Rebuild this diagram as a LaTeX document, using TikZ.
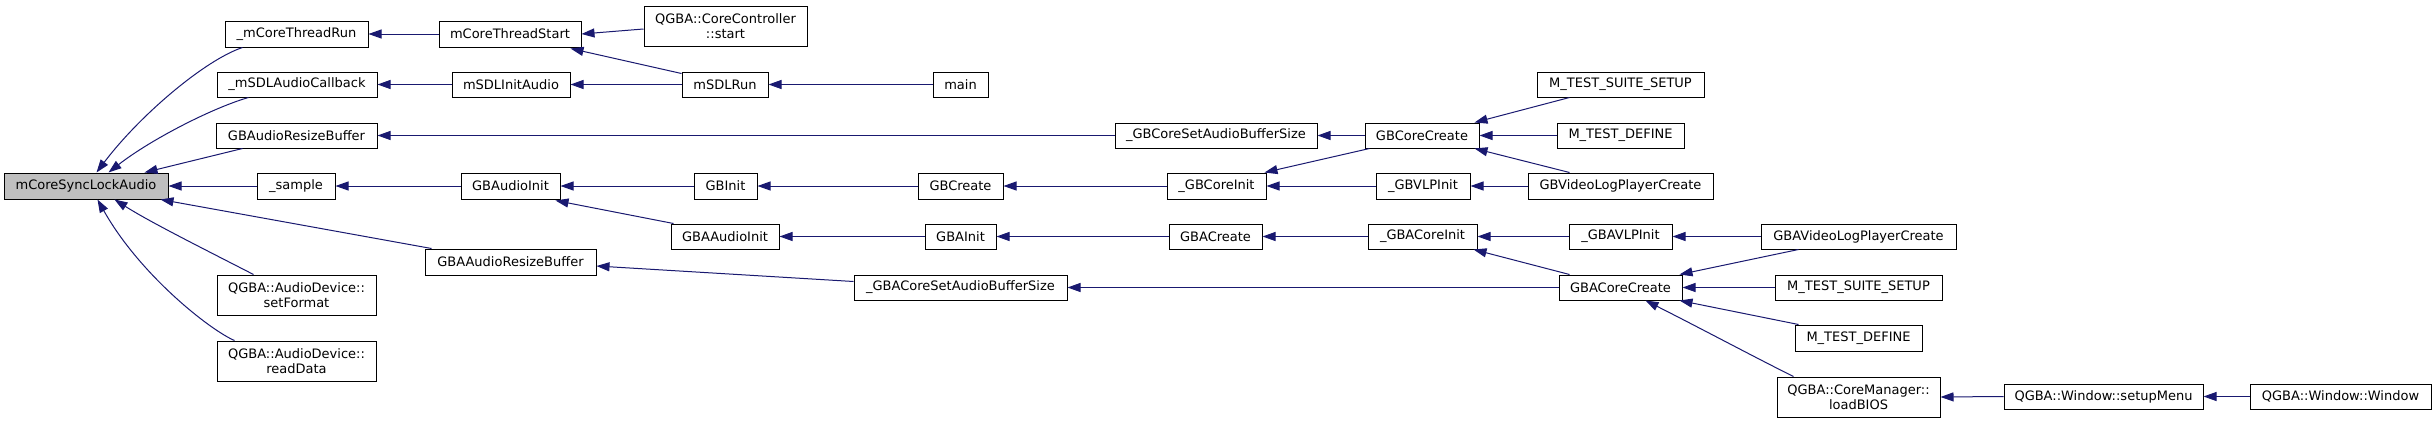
\documentclass[tikz,border=0pt]{standalone}
\usepackage{fontspec}
\setmainfont{DejaVu Sans}
\usetikzlibrary{arrows.meta}
\definecolor{edgecol}{HTML}{191970}
\definecolor{rootfill}{HTML}{BFBFBF}
\newcommand{\bx}[6]{\node[#1, minimum width={(#4-#2)*1pt}, minimum height={(#5-#3)*1pt}] (#6) at ({(#2+#4)/2},{(#3+#5)/2})}
\begin{document}
\begin{tikzpicture}[x=1pt,y=-1pt,
 box/.style={draw=black, line width=1pt, fill=white, inner sep=0pt, align=center, font=\fontsize{13}{15}\selectfont},
 root/.style={box, fill=rootfill},
 edge/.style={draw=edgecol, line width=1pt, -{Triangle[length=13pt,width=9pt]}}
]
\useasboundingbox (0,0) rectangle (2436,423);
\fill[white] (0,0) rectangle (2436,423);
% nodes
\bx{root}{4}{173}{168}{199}{n0} {mCoreSyncLockAudio};
\bx{box}{225}{21}{368}{47}{n1} {\_mCoreThreadRun};
\bx{box}{217}{72}{377}{97}{n2} {\_mSDLAudioCallback};
\bx{box}{216}{123}{377}{148}{n3} {GBAudioResizeBuffer};
\bx{box}{257}{173}{335}{199}{n4} {\_sample};
\bx{box}{425}{249}{596}{275}{n5} {GBAAudioResizeBuffer};
\bx{box}{217}{275}{376}{315}{n6} {QGBA::AudioDevice::\\setFormat};
\bx{box}{217}{341}{376}{381}{n7} {QGBA::AudioDevice::\\readData};
\bx{box}{439}{21}{581}{47}{n8} {mCoreThreadStart};
\bx{box}{452}{72}{570}{97}{n9} {mSDLInitAudio};
\bx{box}{461}{173}{560}{199}{n10} {GBAudioInit};
\bx{box}{644}{6}{807}{46}{n11} {QGBA::CoreController\\::start};
\bx{box}{682}{72}{768}{97}{n12} {mSDLRun};
\bx{box}{933}{72}{988}{97}{n13} {main};
\bx{box}{694}{173}{757}{199}{n14} {GBInit};
\bx{box}{918}{173}{1003}{199}{n15} {GBCreate};
\bx{box}{671}{224}{779}{249}{n16} {GBAAudioInit};
\bx{box}{925}{224}{996}{249}{n17} {GBAInit};
\bx{box}{854}{275}{1067}{300}{n18} {\_GBACoreSetAudioBufferSize};
\bx{box}{1115}{123}{1317}{148}{n19} {\_GBCoreSetAudioBufferSize};
\bx{box}{1365}{123}{1479}{148}{n20} {GBCoreCreate};
\bx{box}{1167}{173}{1266}{199}{n21} {\_GBCoreInit};
\bx{box}{1169}{224}{1262}{249}{n22} {GBACreate};
\bx{box}{1537}{72}{1704}{97}{n23} {M\_TEST\_SUITE\_SETUP};
\bx{box}{1557}{123}{1684}{148}{n24} {M\_TEST\_DEFINE};
\bx{box}{1376}{173}{1470}{199}{n25} {\_GBVLPInit};
\bx{box}{1528}{173}{1713}{199}{n26} {GBVideoLogPlayerCreate};
\bx{box}{1368}{224}{1477}{249}{n27} {\_GBACoreInit};
\bx{box}{1569}{224}{1672}{249}{n28} {\_GBAVLPInit};
\bx{box}{1559}{275}{1682}{300}{n29} {GBACoreCreate};
\bx{box}{1761}{224}{1956}{249}{n30} {GBAVideoLogPlayerCreate};
\bx{box}{1775}{275}{1942}{300}{n31} {M\_TEST\_SUITE\_SETUP};
\bx{box}{1795}{325}{1922}{351}{n32} {M\_TEST\_DEFINE};
\bx{box}{1777}{377}{1940}{417}{n33} {QGBA::CoreManager::\\loadBIOS};
\bx{box}{2004}{384}{2203}{409}{n34} {QGBA::Window::setupMenu};
\bx{box}{2250}{384}{2431}{409}{n35} {QGBA::Window::Window};
% edges into mCoreSyncLockAudio
\draw[edge] ([shift={(18,0)}]n1.south west) .. controls (205,60) and (140,115) .. ([shift={(93,0)}]n0.north west);
\draw[edge] ([shift={(32,0)}]n2.south west) .. controls (212,108) and (150,140) .. ([shift={(105,0)}]n0.north west);
\draw[edge] ([shift={(27,0)}]n3.south west) -- ([shift={(141,0)}]n0.north west);
\draw[edge] (n4.west) -- (n0.east);
\draw[edge] ([shift={(7,0)}]n5.north west) -- ([shift={(-8,0)}]n0.south east);
\draw[edge] ([shift={(37,0)}]n6.north west) .. controls (200,247) and (150,222) .. ([shift={(111,0)}]n0.south west);
\draw[edge] ([shift={(18,0)}]n7.north west) .. controls (210,330) and (140,275) .. ([shift={(94,0)}]n0.south west);
% column 2
\draw[edge] (n8.west) -- (n1.east);
\draw[edge] (n9.west) -- (n2.east);
\draw[edge] (n19.west) -- (n3.east);
\draw[edge] (n10.west) -- (n4.east);
\draw[edge] ([shift={(0,-6)}]n18.west) -- ([shift={(0,4)}]n5.east);
% column 3
\draw[edge] ([shift={(0,3)}]n11.west) -- (n8.east);
\draw[edge] ([shift={(0,2)}]n12.north west) -- ([shift={(-11,1)}]n8.south east);
\draw[edge] (n12.west) -- (n9.east);
\draw[edge] (n13.west) -- (n12.east);
\draw[edge] (n14.west) -- (n10.east);
\draw[edge] ([shift={(3,0)}]n16.north west) -- ([shift={(-5,1)}]n10.south east);
\draw[edge] (n15.west) -- (n14.east);
\draw[edge] (n17.west) -- (n16.east);
\draw[edge] (n21.west) -- (n15.east);
\draw[edge] (n22.west) -- (n17.east);
\draw[edge] (n29.west) -- (n18.east);
\draw[edge] (n20.west) -- (n19.east);
\draw[edge] ([shift={(5,0)}]n20.south west) -- ([shift={(-2,0)}]n21.north east);
\draw[edge] (n25.west) -- (n21.east);
\draw[edge] (n27.west) -- (n22.east);
\draw[edge] ([shift={(33,0)}]n23.south west) -- ([shift={(-5,0)}]n20.north east);
\draw[edge] (n24.west) -- (n20.east);
\draw[edge] ([shift={(42,0)}]n26.north west) -- ([shift={(-5,0)}]n20.south east);
\draw[edge] (n26.west) -- (n25.east);
\draw[edge] (n28.west) -- (n27.east);
\draw[edge] ([shift={(11,0)}]n29.north west) -- ([shift={(-4,0)}]n27.south east);
\draw[edge] (n30.west) -- (n28.east);
\draw[edge] ([shift={(38,0)}]n30.south west) -- ([shift={(-3,0)}]n29.north east);
\draw[edge] (n31.west) -- (n29.east);
\draw[edge] ([shift={(4,0)}]n32.north west) -- ([shift={(-3,0)}]n29.south east);
\draw[edge] ([shift={(17,0)}]n33.north west) .. controls (1760,360) and (1700,328) .. ([shift={(87,0)}]n29.south west);
\draw[edge] (n34.west) -- (n33.east);
\draw[edge] (n35.west) -- (n34.east);
\end{tikzpicture}
\end{document}
